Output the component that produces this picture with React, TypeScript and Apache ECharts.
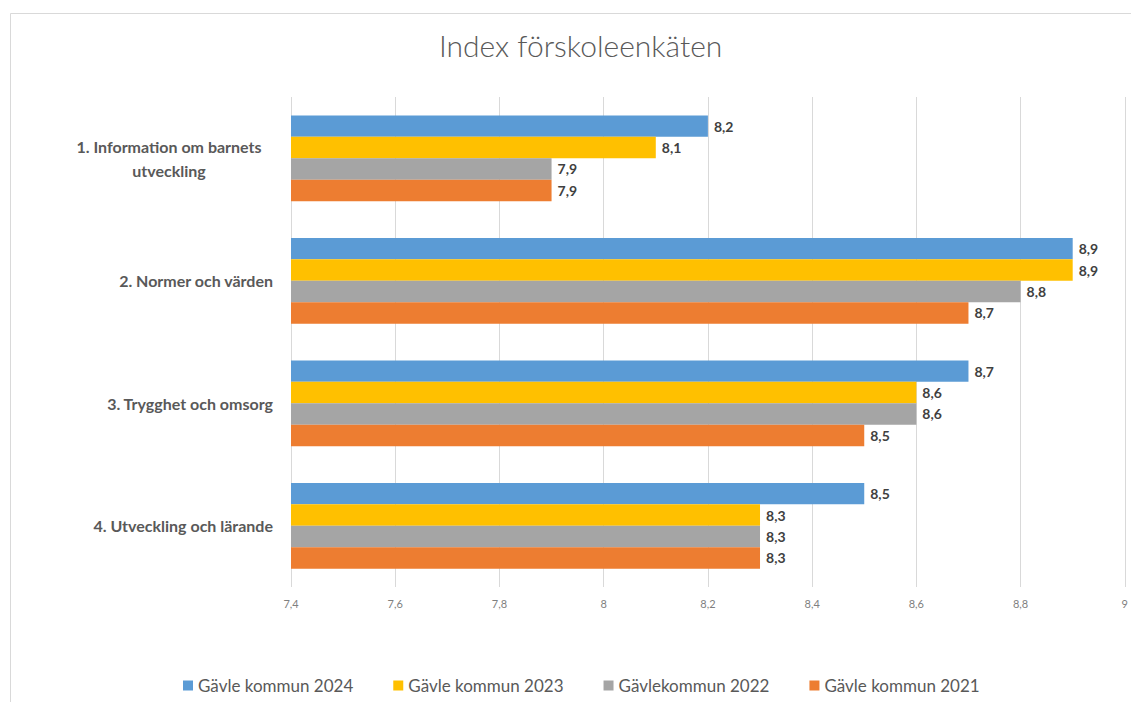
import React, { useEffect, useRef } from "react";
import * as echarts from "echarts";

const categories = [
  "1. Information om barnets\nutveckling",
  "2. Normer och värden",
  "3. Trygghet och omsorg",
  "4. Utveckling och lärande",
];
const seriesNames = ["Gävle kommun 2024", "Gävle kommun 2023", "Gävlekommun 2022", "Gävle kommun 2021"];
const values2024 = [8.2, 8.9, 8.7, 8.5];
const values2023 = [8.1, 8.9, 8.6, 8.3];
const values2022 = [7.9, 8.8, 8.6, 8.3];
const values2021 = [7.9, 8.7, 8.5, 8.3];
const colors = ["#5B9BD5", "#FFC000", "#A5A5A5", "#ED7D31"];

const FONT = "Lato, 'Open Sans', sans-serif";
const fmt = (v: number) => String(Math.round(v * 10) / 10).replace(".", ",");

export default function App() {
  const ref = useRef<HTMLDivElement>(null);
  useEffect(() => {
    if (!ref.current) return;
    const chart = echarts.init(ref.current, undefined, { renderer: "svg" });
    const allValues = [values2024, values2023, values2022, values2021];
    chart.setOption({
      animation: false,
      backgroundColor: "#ffffff",
      textStyle: { fontFamily: FONT },
      title: {
        text: "Index förskoleenkäten",
        left: 434,
        top: 25,
        textStyle: { fontFamily: FONT, fontSize: 30, fontWeight: 300, color: "#595959" },
      },
      legend: {
        bottom: 3,
        left: 178,
        icon: "rect",
        itemWidth: 10,
        itemHeight: 10,
        itemGap: 40,
        textStyle: { fontFamily: FONT, fontSize: 17, color: "#595959" },
        data: seriesNames,
      },
      graphic: [
        {
          type: "rect",
          shape: { x: 10.5, y: 13.5, width: 1140, height: 720 },
          style: { fill: "none", stroke: "#D9D9D9", lineWidth: 1 },
          silent: true,
          z: -1,
        },
      ],
      grid: { left: 291, right: 4, top: 97, bottom: 115 },
      xAxis: {
        type: "value",
        min: 7.4,
        max: 9,
        interval: 0.2,
        axisLine: { show: false },
        axisTick: { show: false },
        splitLine: { show: true, lineStyle: { color: "#D9D9D9", width: 1 } },
        axisLabel: {
          margin: 11,
          fontFamily: FONT,
          fontSize: 11,
          color: "#7F7F7F",
          formatter: (v: number) => fmt(v),
        },
      },
      yAxis: {
        type: "category",
        inverse: true,
        data: categories,
        axisLine: { show: false },
        axisTick: { show: false },
        axisLabel: {
          margin: 18,
          fontFamily: FONT,
          fontSize: 16,
          fontWeight: "bold",
          color: "#595959",
          lineHeight: 24,
          formatter: (v: string) => {
            const lines = v.split("\n");
            if (lines.length === 1) return v;
            return lines.map((l) => `{c|${l}}`).join("\n");
          },
          rich: {
            c: {
              width: 208,
              align: "center",
              fontFamily: FONT,
              fontSize: 16,
              fontWeight: "bold",
              color: "#595959",
              lineHeight: 24,
            },
          },
        },
      },
      series: seriesNames.map((name, i) => ({
        name,
        type: "bar",
        data: allValues[i],
        barGap: "0%",
        barCategoryGap: "30%",
        itemStyle: { color: colors[i] },
        label: {
          show: true,
          position: "right",
          distance: 6,
          fontFamily: FONT,
          fontSize: 14,
          fontWeight: "bold",
          color: "#404040",
          formatter: (p: any) => fmt(p.value),
        },
      })),
    });
    return () => chart.dispose();
  }, []);
  return (
    <div
      ref={ref}
      style={{ position: "fixed", left: 0, top: 0, width: 1131, height: 702 }}
    />
  );
}
